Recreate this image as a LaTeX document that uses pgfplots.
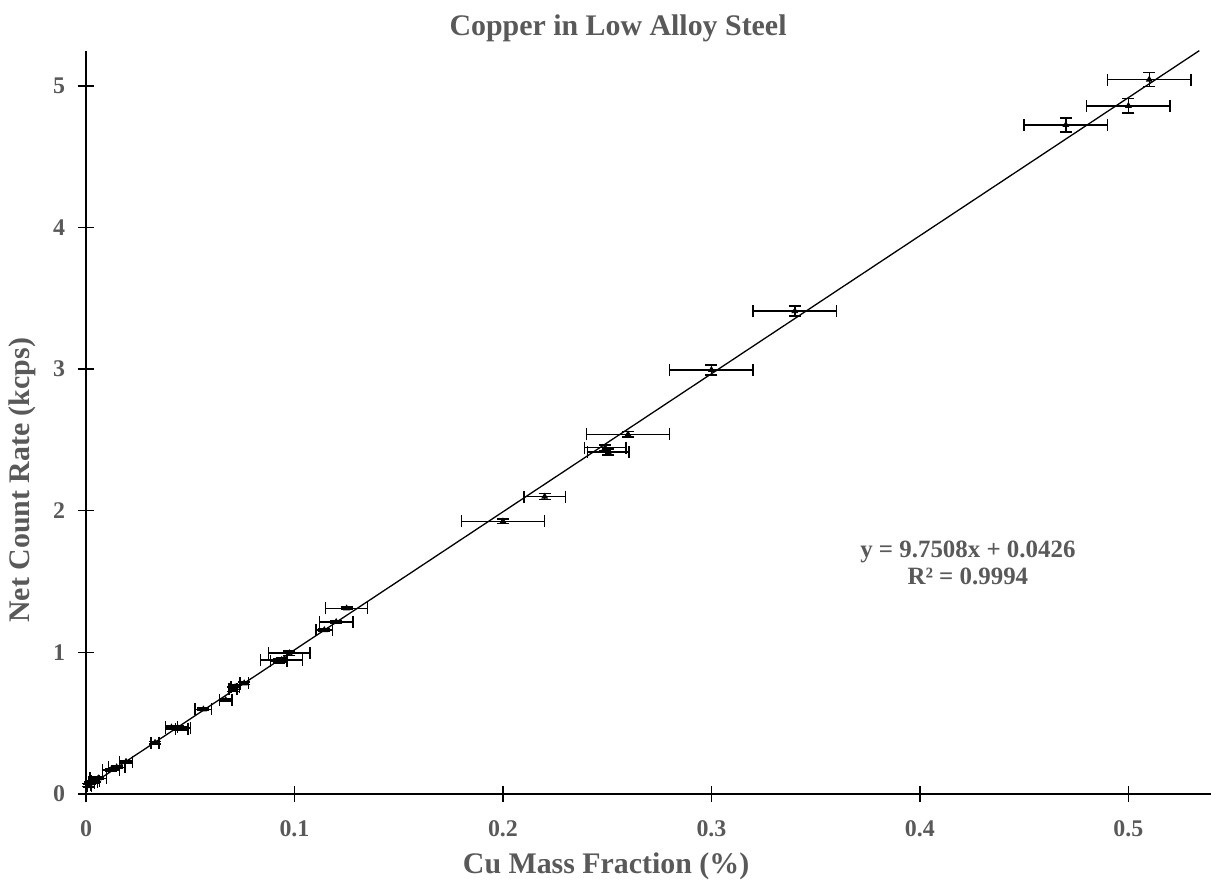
\documentclass[border=0pt]{standalone}
\usepackage{fontspec}
\setmainfont{Liberation Serif}
\usepackage{pgfplots}
\pgfplotsset{compat=1.18}
\usepackage{pgfplotstable}
\definecolor{txtgray}{HTML}{595959}

% x, y, x uncertainty, y uncertainty
\pgfplotstableread{
x       y      ex     ey
0.510   5.045  0.020  0.050
0.500   4.860  0.020  0.050
0.470   4.725  0.020  0.050
0.340   3.410  0.020  0.035
0.300   2.995  0.020  0.035
0.260   2.540  0.020  0.020
0.249   2.445  0.010  0.020
0.2505  2.415  0.010  0.020
0.220   2.100  0.010  0.020
0.200   1.926  0.020  0.015
0.125   1.311  0.010  0.010
0.120   1.215  0.008  0.010
0.1143  1.158  0.004  0.010
0.0975  0.995  0.010  0.015
0.0938  0.946  0.010  0.015
0.0925  0.940  0.004  0.015
0.0759  0.782  0.002  0.010
0.0715  0.755  0.002  0.015
0.0705  0.740  0.002  0.015
0.0670  0.664  0.003  0.010
0.0563  0.598  0.004  0.010
0.0440  0.466  0.006  0.015
0.0410  0.470  0.003  0.010
0.0460  0.462  0.003  0.010
0.0331  0.362  0.002  0.010
0.0192  0.228  0.003  0.010
0.0147  0.189  0.004  0.010
0.0120  0.170  0.004  0.010
0.0059  0.111  0.004  0.010
0.0045  0.095  0.002  0.010
0.0035  0.087  0.002  0.010
0.0020  0.075  0.002  0.010
0.0011  0.064  0.001  0.010
0.0015  0.055  0.001  0.010
}\cudata

\begin{document}
\begin{tikzpicture}
\useasboundingbox (-43bp,-43bp) rectangle (562.5bp,397bp);
\begin{axis}[
    scale only axis,
    width=562.9bp, height=371.7bp,
    xmin=0, xmax=0.54,
    ymin=0, ymax=5.25,
    axis lines*=left,
    axis line style={-, line width=0.7bp},
    tick style={black, line width=0.7bp},
    tick align=center,
    major tick length=8bp,
    xtick={0,0.1,...,0.5},
    ytick={0,1,...,5},
    xticklabels={0,0.1,0.2,0.3,0.4,0.5},
    /pgf/number format/assume math mode=true,
    ticklabel style={font=\bfseries\fontsize{12}{12}\selectfont, text=txtgray},
    xticklabel style={yshift=-6bp},
    yticklabel style={xshift=-3bp},
    xlabel={Cu Mass Fraction (\%)},
    ylabel={Net Count Rate (kcps)},
    label style={font=\bfseries\fontsize{15}{15}\selectfont, text=txtgray},
    xlabel style={at={(0.462,0)}, anchor=center, yshift=-36bp},
    ylabel style={at={(0,0.422)}, anchor=center, yshift=32bp},
    title={Copper in Low Alloy Steel},
    title style={font=\bfseries\fontsize{15}{15}\selectfont, text=txtgray,
                 at={(0.4726,1)}, anchor=center, yshift=5bp},
    clip=false,
]
\addplot[black, line width=0.65bp] coordinates {(0,0.0426) (0.5340,5.2495)};
\addplot[
    only marks, black,
    mark=triangle*, mark size=1.6bp,
    error bars/.cd,
      x dir=both, x explicit,
      y dir=both, y explicit,
      error bar style={line width=0.7bp, black},
      error mark options={rotate=90, mark size=3bp, line width=0.7bp, black},
] table[x=x, y=y, x error=ex, y error=ey] {\cudata};
\node[align=center, text=txtgray, font=\bfseries\fontsize{12.5}{13.5}\selectfont]
    at (axis cs:0.423,1.63) {y = 9.7508x + 0.0426\\R² = 0.9994};
\end{axis}
\end{tikzpicture}
\end{document}
